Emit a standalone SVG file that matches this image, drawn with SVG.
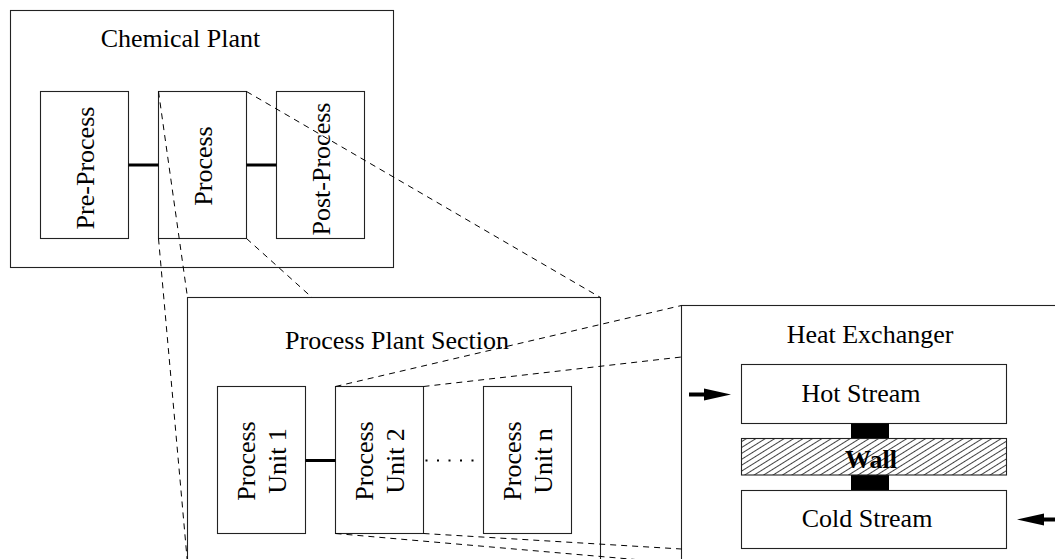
<svg xmlns="http://www.w3.org/2000/svg" width="1055" height="559" viewBox="0 0 1055 559">
<style>
.box{fill:#fff;stroke:#222;stroke-width:1.1}
.t{font-family:"Liberation Serif","Times New Roman",serif;font-size:26px;fill:#000;text-anchor:middle}
.b{font-weight:bold}
.thick{stroke:#000;stroke-width:3;fill:none}
.dot{stroke:#000;stroke-width:2;stroke-dasharray:2 9.5;fill:none}
.proj{stroke:#000;stroke-width:1;stroke-dasharray:6 5;fill:none}
.arrow{stroke:#000;stroke-width:4;fill:none;marker-end:url(#head)}
.blk{fill:#000}
</style>
<defs>
<marker id="head" markerUnits="userSpaceOnUse" markerWidth="28" markerHeight="13" refX="1" refY="6.5" orient="auto">
<path d="M0,0.5 L27,6.5 L0,12.5 z" fill="#000"/>
</marker>
<pattern id="hatch" width="10" height="5" patternUnits="userSpaceOnUse" patternTransform="rotate(-32)">
<line x1="0" y1="2.5" x2="10" y2="2.5" stroke="#111" stroke-width="0.8"/>
</pattern>
</defs>

<g id="chemical-plant">
<rect class="box" x="10.5" y="10.5" width="383" height="257"/>
<text class="t" x="180.5" y="47">Chemical Plant</text>
</g>
<g id="pre-process">
<rect class="box" x="40.5" y="91.5" width="88" height="147"/>
<text class="t" transform="translate(84.5,168) rotate(-90)" x="0" y="9">Pre-Process</text>
</g>
<g id="process">
<rect class="box" x="158.5" y="91.5" width="88" height="147"/>
<text class="t" transform="translate(202.5,166) rotate(-90)" x="0" y="9">Process</text>
</g>
<g id="post-process">
<rect class="box" x="276.5" y="91.5" width="88" height="147"/>
<text class="t" transform="translate(320.5,169) rotate(-90)" x="0" y="9">Post-Process</text>
</g>

<g id="process-plant-section">
<rect class="box" x="187.5" y="297.5" width="413" height="300"/>
<text class="t" x="397" y="349">Process Plant Section</text>
</g>
<g id="process-unit-1">
<rect class="box" x="217.5" y="386.5" width="88" height="147"/>
<text class="t" transform="translate(261.5,461) rotate(-90)"><tspan x="0" y="-7">Process</tspan><tspan x="0" y="24">Unit 1</tspan></text>
</g>
<g id="process-unit-2">
<rect class="box" x="335.5" y="386.5" width="88" height="147"/>
<text class="t" transform="translate(379.5,461) rotate(-90)"><tspan x="0" y="-7">Process</tspan><tspan x="0" y="24">Unit 2</tspan></text>
</g>
<g id="process-unit-n">
<rect class="box" x="483.5" y="386.5" width="88" height="147"/>
<text class="t" transform="translate(527.5,461) rotate(-90)"><tspan x="0" y="-7">Process</tspan><tspan x="0" y="24">Unit n</tspan></text>
</g>

<g id="heat-exchanger">
<rect class="box" x="681.5" y="305.5" width="400" height="300"/>
<text class="t" x="870" y="343">Heat Exchanger</text>
</g>
<g id="hot-stream">
<rect class="box" x="741.5" y="364.5" width="265" height="59"/>
<text class="t" x="861" y="402">Hot Stream</text>
</g>
<g id="wall">
<rect class="blk" x="851" y="423.5" width="38" height="15"/>
<rect class="blk" x="851" y="475" width="38" height="15.5"/>
<rect x="741.5" y="438.5" width="265" height="36.5" fill="url(#hatch)" stroke="#222" stroke-width="1.1"/>
<text class="t b" x="871" y="468">Wall</text>
</g>
<g id="cold-stream">
<rect class="box" x="741.5" y="490.5" width="265" height="58"/>
<text class="t" x="867" y="527">Cold Stream</text>
</g>

<g id="connectors">
<line class="thick" x1="128.5" y1="165" x2="158.5" y2="165"/>
<line class="thick" x1="246.5" y1="165" x2="276.5" y2="165"/>
<line class="thick" x1="305.5" y1="460.5" x2="335.5" y2="460.5"/>
<line class="dot" x1="425.5" y1="460.5" x2="483" y2="460.5"/>
<line class="proj" x1="158.5" y1="91.5" x2="187.5" y2="297.5"/>
<line class="proj" x1="158.5" y1="238.5" x2="188" y2="569"/>
<line class="proj" x1="246.5" y1="91.5" x2="600.5" y2="297.5"/>
<line class="proj" x1="246.5" y1="238.5" x2="312" y2="297.5"/>
<line class="proj" x1="335.5" y1="386.5" x2="681.5" y2="305.5"/>
<line class="proj" x1="423.5" y1="386.5" x2="681.5" y2="357"/>
<line class="proj" x1="423.5" y1="533.5" x2="681.5" y2="549"/>
<line class="proj" x1="335.5" y1="533.5" x2="681.5" y2="563.5"/>
<line class="arrow" x1="689" y1="394.5" x2="705" y2="394.5"/>
<line class="arrow" x1="1056" y1="519.5" x2="1043" y2="519.5"/>
</g>
</svg>
